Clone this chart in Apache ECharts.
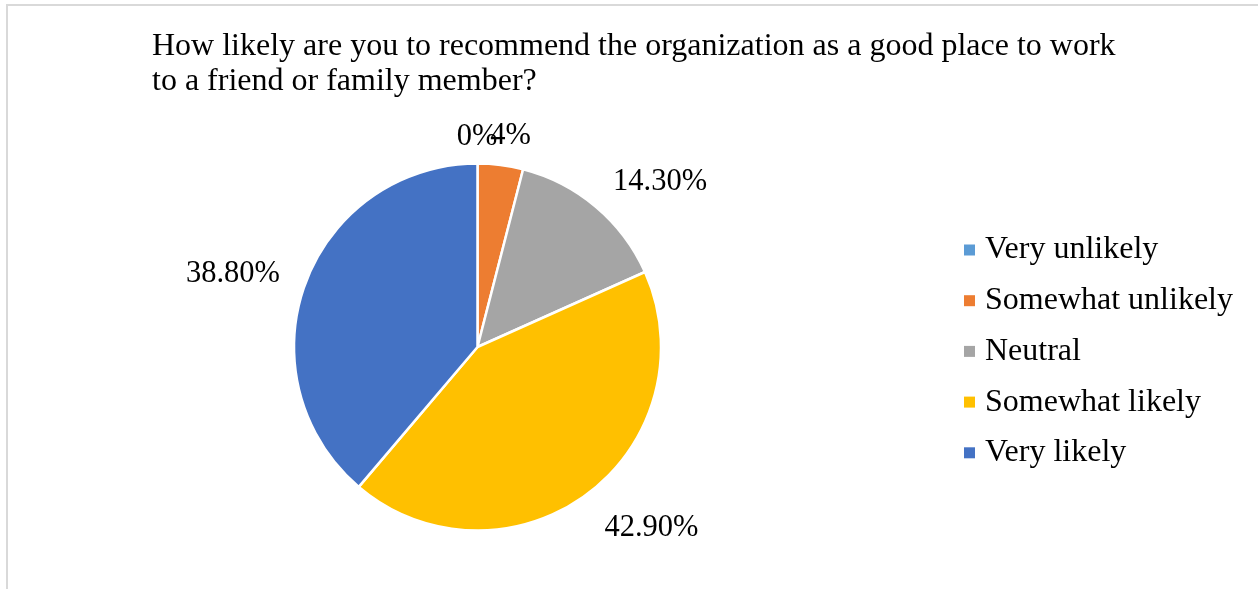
<!DOCTYPE html>
<html>
<head>
<meta charset="utf-8">
<style>
  html, body { margin: 0; padding: 0; background: #fff; }
  #chart { width: 1258px; height: 589px; }
</style>
<script src="https://cdn.jsdelivr.net/npm/echarts@6/dist/echarts.min.js"></script>
</head>
<body>
<div id="chart"></div>
<script>
// Survey responses (percent of respondents)
const categories = ['Very unlikely', 'Somewhat unlikely', 'Neutral', 'Somewhat likely', 'Very likely'];
const shares = [0, 4, 14.3, 42.9, 38.8];
const sliceColors = ['#5B9BD5', '#ED7D31', '#A5A5A5', '#FFC000', '#4472C4'];
const titleText = 'How likely are you to recommend the organization as a good place to work\nto a friend or family member?';

// Label placement per slice: radial push-out and horizontal nudge
const labelPush = [27, 29, 33, 43, 28];
const labelNudge = [-20, -14, -4, -9, -1];

const serif = "'Liberation Serif', 'Times New Roman', serif";

function fmtPct(v) {
  return (Number.isInteger(v) ? String(v) : v.toFixed(2)) + '%';
}

const pieData = categories.map((name, i) => ({
  name: name,
  value: shares[i],
  itemStyle: { color: sliceColors[i] },
  label: { distanceToLabelLine: labelNudge[i] },
  labelLine: { length: labelPush[i], length2: 0 }
}));

const legendData = categories.map(name => ({
  name: name,
  itemStyle: { borderWidth: 0, borderColor: 'rgba(0,0,0,0)' }
}));

const chart = echarts.init(document.getElementById('chart'), null, { renderer: 'canvas' });
chart.setOption({
  animation: false,
  backgroundColor: '#ffffff',
  graphic: [{
    type: 'rect',
    silent: true,
    shape: { x: 7, y: 5, width: 1400, height: 800 },
    style: { fill: 'none', stroke: '#d9d9d9', lineWidth: 2 }
  }],
  title: {
    text: titleText,
    left: 152,
    top: 29,
    padding: 0,
    textStyle: {
      fontFamily: serif,
      fontSize: 32,
      fontWeight: 'normal',
      color: '#000',
      lineHeight: 35
    }
  },
  legend: {
    orient: 'vertical',
    left: 964,
    top: 234,
    padding: 0,
    icon: 'rect',
    itemWidth: 11,
    itemHeight: 11,
    itemGap: 18.7,
    data: legendData,
    itemStyle: { borderWidth: 0, borderColor: 'rgba(0,0,0,0)' },
    textStyle: {
      fontFamily: serif,
      fontSize: 32,
      color: '#000',
      lineHeight: 32,
      padding: [0, 0, 0, 5]
    }
  },
  series: [{
    type: 'pie',
    center: [477.5, 347],
    radius: 183.5,
    startAngle: 90,
    clockwise: true,
    avoidLabelOverlap: false,
    stillShowZeroSum: true,
    labelLayout: { hideOverlap: false },
    itemStyle: { borderColor: '#ffffff', borderWidth: 2.5 },
    label: {
      show: true,
      position: 'outside',
      fontFamily: serif,
      fontSize: 30.5,
      color: '#000',
      formatter: p => fmtPct(p.value)
    },
    labelLine: { show: false },
    emphasis: { disabled: true },
    data: pieData
  }]
});
</script>
</body>
</html>
